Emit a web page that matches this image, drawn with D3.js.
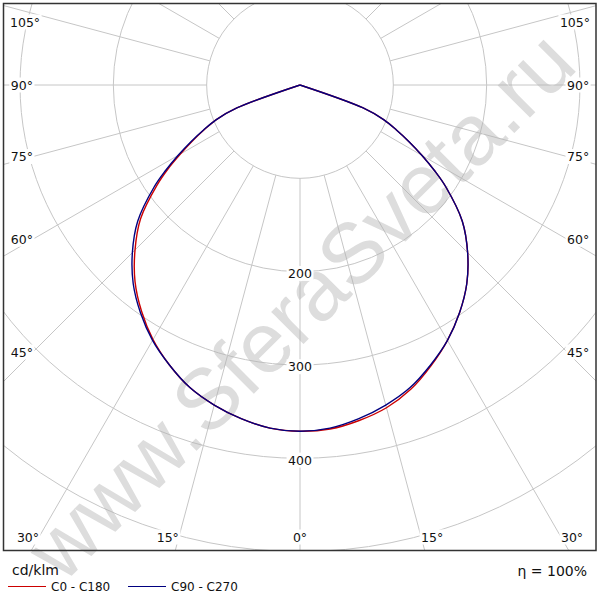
<!DOCTYPE html>
<html>
<head>
<meta charset="utf-8">
<script src="https://cdn.jsdelivr.net/npm/d3@7"></script>
<style>
  html, body { margin: 0; padding: 0; background: #fff; }
  svg { display: block; font-family: "DejaVu Sans", Verdana, sans-serif; }
</style>
</head>
<body>
<div id="chart"></div>
<script>
// gamma angles (deg from nadir) and intensities, cd/klm
const gammas = [0, 5, 10, 15, 20, 25, 30, 35, 40, 45, 50, 55, 57.5, 60, 62.5, 65, 67.5, 70, 72.5, 75, 80, 85, 90];
const c0   = [371, 370, 365, 358, 347, 332, 316, 298, 278, 254, 227, 191, 171, 151, 132, 114, 97, 72, 0, 0, 0, 0, 0];
const c180 = [371, 369, 363, 355, 345, 331, 315, 296, 275, 250, 223, 187, 168, 148, 130, 113, 97, 72, 0, 0, 0, 0, 0];
const c90  = [371, 369, 363, 355, 345, 331, 316, 298, 278, 254, 227, 191, 171, 151, 132, 114, 97, 72, 0, 0, 0, 0, 0];
const c270 = [371, 369, 363, 355, 345, 331, 316, 298, 278, 254, 227, 191, 171, 151, 132, 114, 97, 72, 0, 0, 0, 0, 0];

const rings       = [100, 200, 300, 400, 500, 600];
const ringLabels  = [200, 300, 400];
const angleTicks  = [0, 15, 30, 45, 60, 75, 90, 105];
const seriesNames = ['C0 - C180', 'C90 - C270'];
const unitLabel   = 'cd/klm';
const etaLabel    = 'η = 100%';
const watermark   = 'www.SferaSveta.ru';

(function(){
  const W = 600, H = 600,
        cx = 300, cy = 85,
        frame = { x0: 3.5, y0: 3.5, x1: 596, y1: 550.5 },
        gridColor = '#c6c6c6',
        colors = ['#cc0000', '#000080'];

  const r = d3.scaleLinear().domain([0, 100]).range([0, 93.33]);

  const svg = d3.select('#chart').append('svg')
      .attr('width', W)
      .attr('height', H);

  svg.append('defs').append('clipPath').attr('id', 'clip')
    .append('rect')
      .attr('x', frame.x0).attr('y', frame.y0)
      .attr('width', frame.x1 - frame.x0)
      .attr('height', frame.y1 - frame.y0);

  const g = svg.append('g').attr('clip-path', 'url(#clip)');
  const plot = g.append('g').attr('transform', `translate(${cx},${cy})`);

  // rings
  plot.selectAll('circle.ring')
    .data(rings)
    .enter().append('circle')
      .attr('class', 'ring')
      .attr('r', d => r(d))
      .attr('fill', 'none')
      .attr('stroke', gridColor)
      .attr('stroke-width', 1);

  // radial lines every 15 deg, starting at the inner ring
  const rad = a => a * Math.PI / 180;
  plot.selectAll('line.spoke')
    .data(d3.range(0, 360, 15))
    .enter().append('line')
      .attr('class', 'spoke')
      .attr('x1', a => r(100) * Math.sin(rad(a)))
      .attr('y1', a => r(100) * Math.cos(rad(a)))
      .attr('x2', a => r(800) * Math.sin(rad(a)))
      .attr('y2', a => r(800) * Math.cos(rad(a)))
      .attr('stroke', gridColor)
      .attr('stroke-width', 1);

  // watermark (not clipped, runs over the frame like the original)
  svg.append('text')
    .attr('transform', 'translate(300,305) rotate(-45)')
    .attr('text-anchor', 'middle')
    .attr('dominant-baseline', 'central')
    .style('font-family', '"Liberation Sans", Arial, sans-serif')
    .style('font-size', '86px')
    .attr('fill', '#b4b4b4')
    .attr('opacity', 0.45)
    .text(watermark);

  // curves: left half uses the second plane, right half the first
  function halfPlanes(right, left) {
    const pts = [];
    let lastL = left.findIndex(v => v === 0);
    if (lastL < 0) lastL = left.length - 1;
    let lastR = right.findIndex(v => v === 0);
    if (lastR < 0) lastR = right.length - 1;
    for (let i = lastL; i > 0; i--) pts.push({ g: -gammas[i], v: left[i] });
    for (let i = 0; i <= lastR; i++) pts.push({ g: gammas[i], v: right[i] });
    return pts;
  }

  const line = d3.lineRadial()
    .angle(d => Math.PI - rad(d.g))
    .radius(d => r(d.v))
    .curve(d3.curveCatmullRom.alpha(0.5));

  const curves = [halfPlanes(c0, c180), halfPlanes(c90, c270)];
  svg.append('g').attr('transform', `translate(${cx},${cy})`)
    .selectAll('path.ldc')
    .data(curves)
    .enter().append('path')
      .attr('class', 'ldc')
      .attr('d', line)
      .attr('fill', 'none')
      .attr('stroke', (d, i) => colors[i])
      .attr('stroke-width', 1.4);

  // labels with white boxes
  function boxed(sel) {
    sel.each(function(){
      const b = this.getBBox();
      d3.select(this.parentNode).insert('rect', () => this)
        .attr('x', b.x - 1.5).attr('y', b.y)
        .attr('width', b.width + 3).attr('height', b.height)
        .attr('fill', '#fff');
    });
  }

  const lab = svg.append('g').style('font-size', '12.5px').attr('fill', '#111');

  lab.selectAll('g.rl')
    .data(ringLabels)
    .enter().append('g').attr('class', 'rl')
    .append('text')
      .attr('x', cx)
      .attr('y', d => cy + r(d))
      .attr('dy', '0.5em')
      .attr('text-anchor', 'middle')
      .text(d => d)
      .call(boxed);

  const sideX = 267, bottomY = 537, topMin = 22, edgePad = 10;
  const angleData = [];
  angleTicks.forEach(a => {
    if (a === 0) angleData.push(0);
    else { angleData.push(-a); angleData.push(a); }
  });

  lab.selectAll('g.al')
    .data(angleData)
    .enter().append('g').attr('class', 'al')
    .append('text')
      .attr('dy', '0.36em')
      .text(a => Math.abs(a) + '°')
      .each(function(a){
        const dx = Math.sin(rad(a)), dy = Math.cos(rad(a));
        const tSide = Math.abs(dx) > 1e-9 ? sideX / Math.abs(dx) : Infinity;
        const tBot = dy > 0 ? (bottomY - cy) / dy : Infinity;
        const t = d3.select(this);
        if (tSide < tBot) {
          const y = Math.max(topMin, cy + tSide * dy);
          const w = this.getComputedTextLength();
          const x = a < 0 ? Math.max(cx - sideX, edgePad + w) : Math.min(cx + sideX, W - edgePad - w);
          t.attr('x', x)
           .attr('y', y)
           .attr('text-anchor', a < 0 ? 'end' : 'start');
        } else {
          t.attr('x', cx + tBot * dx)
           .attr('y', bottomY)
           .attr('text-anchor', a === 0 ? 'middle' : (a < 0 ? 'end' : 'start'));
        }
      })
      .call(boxed);

  // frame
  svg.append('rect')
    .attr('x', frame.x0).attr('y', frame.y0)
    .attr('width', frame.x1 - frame.x0)
    .attr('height', frame.y1 - frame.y0)
    .attr('fill', 'none')
    .attr('stroke', '#333')
    .attr('stroke-width', 1.5);

  // legend
  const leg = svg.append('g').attr('fill', '#111');
  leg.append('text')
    .attr('x', 12).attr('y', 575)
    .style('font-size', '14px')
    .text(unitLabel);

  const items = leg.selectAll('g.item')
    .data(seriesNames)
    .enter().append('g')
      .attr('class', 'item')
      .attr('transform', (d, i) => `translate(${8 + i * 120},586.5)`);
  items.append('line')
    .attr('x1', 0).attr('x2', 38)
    .attr('stroke', (d, i) => colors[i])
    .attr('stroke-width', 1.2);
  items.append('text')
    .attr('x', 43).attr('dy', '0.36em')
    .style('font-size', '12px')
    .text(d => d);

  leg.append('text')
    .attr('x', 587).attr('y', 576)
    .attr('text-anchor', 'end')
    .style('font-size', '14px')
    .text(etaLabel);
})();
</script>
</body>
</html>
